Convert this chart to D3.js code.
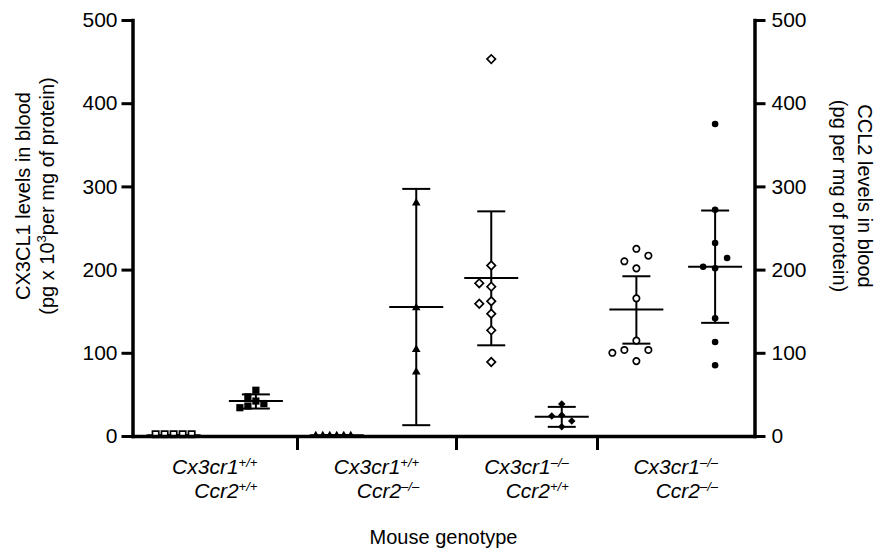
<!DOCTYPE html>
<html>
<head>
<meta charset="utf-8">
<script src="https://cdn.jsdelivr.net/npm/d3@7"></script>
<style>
body { margin: 0; background: #fff; }
svg text { font-family: "Liberation Sans", Arial, sans-serif; fill: #000; }
</style>
</head>
<body>
<div id="chartContent"></div>
<script>
// genotype groups along the x axis
var cx3cr1Geno = ["+/+", "+/+", "\u2013/\u2013", "\u2013/\u2013"];
var ccr2Geno = ["+/+", "\u2013/\u2013", "+/+", "\u2013/\u2013"];

// CX3CL1 in blood (left axis), one list per genotype
var cx3cl1Values = [
	[2, 2, 2, 2, 2],
	[2, 2, 2, 2, 2, 2],
	[453, 205, 179.5, 183.5, 147, 162, 159, 127, 89],
	[225, 201.5, 210, 216.7, 165.5, 114.6, 90, 103.4, 103.4, 100]
];
var cx3cl1Mean = [1, 1, 190, 152];
var cx3cl1Low = [1, 1, 109, 111];
var cx3cl1High = [1, 1, 270, 192];

// CCL2 in blood (right axis)
var ccl2Values = [
	[55, 47, 42, 39, 36, 34],
	[280, 154, 104, 77],
	[38.5, 25, 24, 18, 11],
	[375, 272, 232, 201.5, 203.5, 214, 141.5, 113, 85]
];
var ccl2Mean = [42, 155, 23, 203.5];
var ccl2Low = [33, 13, 11, 136];
var ccl2High = [50, 297, 35, 271];

var yTicks = [0, 100, 200, 300, 400, 500];

// symbol for each group (left column, right column)
var cx3cl1Style = [
	{shape: "square", filled: false, size: 40, step: 9},
	{shape: "triangle", filled: true, size: 16, step: 7},
	{shape: "diamond", filled: false, size: 36, step: 12},
	{shape: "circle", filled: false, size: 32, step: 12}
];
var ccl2Style = [
	{shape: "square", filled: true, size: 52, step: 8},
	{shape: "triangle", filled: true, size: 32, step: 12},
	{shape: "diamond", filled: true, size: 28, step: 10},
	{shape: "circle", filled: true, size: 34, step: 12}
];

var width = 880, height = 550;

var svg = d3.select("#chartContent")
	.append("svg")
		.attr("width", width)
		.attr("height", height);

// group boundaries are not evenly spaced in the original figure
var x = d3.scaleLinear().domain([0, 1, 2, 3, 4]).range([132.5, 297, 456, 597, 754.5]);
var y = d3.scaleLinear().domain([0, 500]).range([436, 20]);
var yRight = d3.scaleLinear().domain([0, 500]).range([436, 20]);

var symbolTypes = {
	square: d3.symbolSquare,
	triangle: d3.symbolTriangle,
	diamond: d3.symbolSquare,
	circle: d3.symbolCircle
};

// simple beeswarm so points with close values sit side by side
function swarm(vals, scale, cx, step) {
	var placed = [];
	vals.forEach(function(v) {
		var cy = scale(v);
		var k = 0, px = cx;
		while (true) {
			var off = k === 0 ? 0 : (k % 2 ? -1 : 1) * Math.ceil(k / 2) * step;
			px = cx + off;
			var hit = placed.some(function(p) {
				return Math.hypot(p.x - px, p.y - cy) < step - 0.5;
			});
			if (!hit) break;
			k++;
		}
		placed.push({x: px, y: cy});
	});
	return placed;
}

function drawColumn(vals, mean, low, high, scale, cx, style) {
	var g = svg.append("g");

	// mean line and error bar
	g.append("line")
		.attr("x1", cx).attr("x2", cx)
		.attr("y1", scale(low)).attr("y2", scale(high))
		.attr("stroke", "#000").attr("stroke-width", 2);
	[low, high].forEach(function(v) {
		g.append("line")
			.attr("x1", cx - 14).attr("x2", cx + 14)
			.attr("y1", scale(v)).attr("y2", scale(v))
			.attr("stroke", "#000").attr("stroke-width", 2);
	});
	g.append("line")
		.attr("x1", cx - 27).attr("x2", cx + 27)
		.attr("y1", scale(mean)).attr("y2", scale(mean))
		.attr("stroke", "#000").attr("stroke-width", 2);

	var pts = swarm(vals, scale, cx, style.step);
	g.selectAll("path.pt")
		.data(pts)
		.enter()
		.append("path")
			.attr("class", "pt")
			.attr("d", d3.symbol().type(symbolTypes[style.shape]).size(style.size))
			.attr("transform", function(d) {
				return "translate(" + d.x + "," + d.y + ")" + (style.shape == "diamond" ? " rotate(45)" : "");
			})
			.attr("fill", style.filled ? "#000" : "#fff")
			.attr("stroke", style.filled ? "none" : "#000")
			.attr("stroke-width", 1.7);
}

for (var i = 0; i < cx3cr1Geno.length; i++) {
	drawColumn(cx3cl1Values[i], cx3cl1Mean[i], cx3cl1Low[i], cx3cl1High[i], y, x(i + 0.25), cx3cl1Style[i]);
	drawColumn(ccl2Values[i], ccl2Mean[i], ccl2Low[i], ccl2High[i], yRight, x(i + 0.75), ccl2Style[i]);
}

// axes
var leftAxis = svg.append("g")
	.attr("transform", "translate(" + x(0) + ",0)")
	.call(d3.axisLeft(y).tickValues(yTicks).tickSize(11).tickSizeOuter(0).tickPadding(4));

var rightAxis = svg.append("g")
	.attr("transform", "translate(" + x(4) + ",0)")
	.call(d3.axisRight(yRight).tickValues(yTicks).tickSize(11).tickSizeOuter(0).tickPadding(6));

var bottomAxis = svg.append("g")
	.attr("transform", "translate(0," + y(0) + ")")
	.call(d3.axisBottom(x).tickValues([1, 2, 3]).tickSize(14).tickSizeOuter(0).tickFormat(""));

[leftAxis, rightAxis, bottomAxis].forEach(function(a) {
	a.select(".domain").attr("stroke-width", 3.5).attr("stroke-linecap", "square");
	a.selectAll(".tick line").attr("stroke-width", 3);
	a.selectAll(".tick text").attr("font-size", 21).attr("font-family", null);
});

// genotype labels
var labels = svg.append("g").attr("font-style", "italic");
for (var i = 0; i < cx3cr1Geno.length; i++) {
	var cx = (x(i) + x(i + 1)) / 2;
	var t1 = labels.append("text")
		.attr("x", cx).attr("y", 474)
		.attr("text-anchor", "middle")
		.attr("font-size", 21);
	t1.append("tspan").text("Cx3cr1");
	t1.append("tspan").attr("font-size", 13).attr("dy", -7).text(cx3cr1Geno[i]);
	var w = t1.node().getComputedTextLength();

	var t2 = labels.append("text")
		.attr("x", cx + w / 2).attr("y", 498)
		.attr("text-anchor", "end")
		.attr("font-size", 21);
	t2.append("tspan").text("Ccr2");
	t2.append("tspan").attr("font-size", 13).attr("dy", -7).text(ccr2Geno[i]);
}

svg.append("text")
	.attr("x", (x(0) + x(4)) / 2).attr("y", 544)
	.attr("text-anchor", "middle")
	.attr("font-size", 20)
	.text("Mouse genotype");

// left title
var lt = svg.append("g").attr("transform", "translate(23,196) rotate(-90)");
lt.append("text").attr("text-anchor", "middle").attr("dy", "0.35em").attr("font-size", 20)
	.text("CX3CL1 levels in blood");
var lt2 = svg.append("g").attr("transform", "translate(47,196) rotate(-90)")
	.append("text").attr("text-anchor", "middle").attr("dy", "0.35em").attr("font-size", 20);
lt2.append("tspan").text("(pg x 10");
lt2.append("tspan").attr("font-size", 13).attr("dy", -8).text("3");
lt2.append("tspan").attr("dy", 8).text("per mg of protein)");

// right title
svg.append("g").attr("transform", "translate(865,196) rotate(90)")
	.append("text").attr("text-anchor", "middle").attr("dy", "0.35em").attr("font-size", 20)
	.text("CCL2 levels in blood");
svg.append("g").attr("transform", "translate(840,196) rotate(90)")
	.append("text").attr("text-anchor", "middle").attr("dy", "0.35em").attr("font-size", 20)
	.text("(pg per mg of protein)");
</script>
</body>
</html>
